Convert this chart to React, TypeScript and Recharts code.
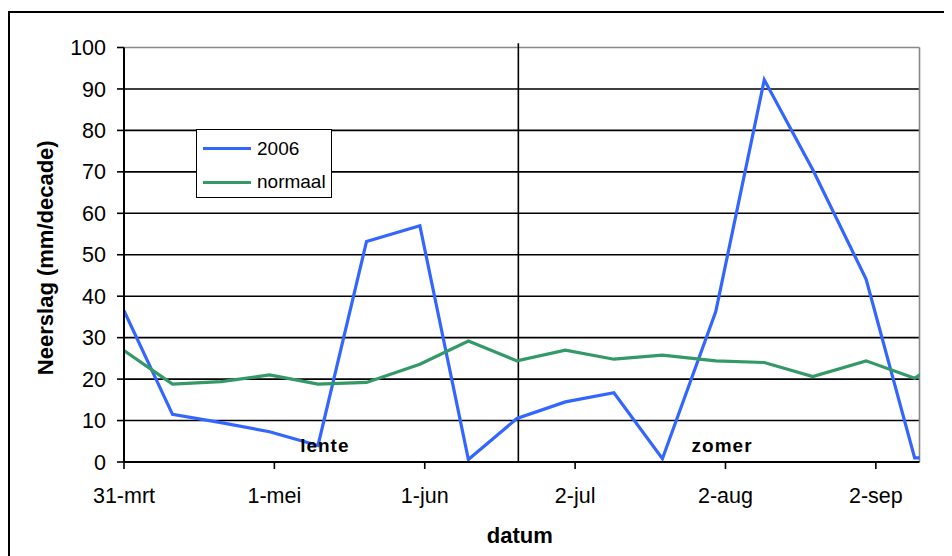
import React from "react";
import {
  LineChart,
  Line,
  XAxis,
  YAxis,
  ReferenceLine,
  ReferenceDot,
  Legend,
} from "recharts";

// Day offsets (from 31 March) of each decade end
const decadeDays = [0, 10, 20, 30, 40, 50, 61, 71, 81, 91, 101, 111, 122, 132, 142, 153, 163, 173];
// Precipitation per decade (mm), 2006
const rain2006 = [36.5, 11.5, 9.5, 7.3, 4.0, 53.2, 57.0, 0.6, 10.5, 14.5, 16.7, 0.8, 36.3, 92.2, 70.5, 44.1, 1.0, 1.0];
// Long-term normal precipitation per decade (mm)
const rainNormal = [26.9, 18.8, 19.4, 21.0, 18.8, 19.2, 23.6, 29.2, 24.4, 27.0, 24.8, 25.8, 24.4, 24.0, 20.6, 24.4, 20.2, 28.0];

// X axis: tick positions (days) and their date labels
const xTicks = [0, 31, 62, 93, 124, 155];
const xTickLabels = ["31-mrt", "1-mei", "1-jun", "2-jul", "2-aug", "2-sep"];
const xMax = 164;

// Y axis ticks and horizontal gridlines
const yTicks = [0, 10, 20, 30, 40, 50, 60, 70, 80, 90, 100];
const gridValues = [10, 20, 30, 40, 50, 60, 70, 80, 90];

// Season divider and season labels
const summerStartDay = 81.3;
const seasons = [
  { name: "lente", day: 41.4, value: 4.1 },
  { name: "zomer", day: 123.3, value: 4.1 },
];

const seriesNames = { y2006: "2006", normal: "normaal" };
const BLUE = "#3366FF";
const GREEN = "#339966";
const FONT = "'Liberation Sans', Arial, sans-serif";

const data = decadeDays.map((d, i) => ({
  day: d,
  y2006: rain2006[i],
  normal: rainNormal[i],
}));

const LegendBox = () => (
  <div
    style={{
      width: 136,
      height: 69,
      border: "1.5px solid #000",
      background: "#fff",
      fontFamily: FONT,
      fontSize: 19,
      color: "#000",
      boxSizing: "border-box",
      position: "relative",
    }}
  >
    {[
      { label: seriesNames.y2006, color: BLUE, top: 18.5 },
      { label: seriesNames.normal, color: GREEN, top: 52 },
    ].map((it) => (
      <div key={it.label} style={{ position: "absolute", left: 6, top: it.top - 12, height: 24, display: "flex", alignItems: "center" }}>
        <div style={{ width: 48, height: 3, background: it.color, marginRight: 6 }} />
        <span style={{ lineHeight: "24px" }}>{it.label}</span>
      </div>
    ))}
  </div>
);

const SeasonLabel = (name: string) => (props: any) => {
  const { cx, cy } = props;
  return (
    <text
      x={cx}
      y={cy}
      textAnchor="middle"
      dominantBaseline="central"
      fontFamily={FONT}
      fontWeight="bold"
      fontSize={19}
      letterSpacing={1}
      fill="#000"
    >
      {name}
    </text>
  );
};

export default function App() {
  return (
    <div style={{ position: "relative", width: 944, height: 548, overflow: "hidden", background: "#fff" }}>
      <div
        style={{
          position: "absolute",
          left: 0,
          top: 3,
          width: 1000,
          height: 700,
          border: "2px solid #000",
          boxSizing: "border-box",
        }}
      />
      <div style={{ position: "absolute", left: 0, top: 0 }}>
        <LineChart
          width={944}
          height={548}
          data={data}
          margin={{ top: 39.5, right: 32.5, bottom: 34, left: 56 }}
        >
          {gridValues.map((v) => (
            <ReferenceLine key={`g${v}`} y={v} stroke="#000" strokeWidth={1.6} />
          ))}
          <ReferenceLine y={100} stroke="#888" strokeWidth={1.6} />
          <ReferenceLine x={xMax} stroke="#888" strokeWidth={1.6} />
          <XAxis
            dataKey="day"
            type="number"
            domain={[0, xMax]}
            allowDataOverflow
            ticks={xTicks}
            tickFormatter={(v: number) => xTickLabels[xTicks.indexOf(v)]}
            interval={0}
            height={60}
            tickSize={7}
            tickMargin={19}
            stroke="#000"
            axisLine={{ stroke: "#000", strokeWidth: 2 }}
            tickLine={{ stroke: "#000", strokeWidth: 1.6 }}
            tick={{ fill: "#000", fontSize: 21.5, fontFamily: FONT }}
            label={{
              content: ({ viewBox }: any) => (
                <text
                  x={viewBox.x + viewBox.width / 2 - 2}
                  y={527}
                  textAnchor="middle"
                  dominantBaseline="central"
                  fontFamily={FONT}
                  fontWeight="bold"
                  fontSize={22}
                  fill="#000"
                >
                  datum
                </text>
              ),
            }}
          />
          <YAxis
            type="number"
            domain={[0, 100]}
            ticks={yTicks}
            interval={0}
            width={60}
            tickSize={7}
            tickMargin={11}
            axisLine={{ stroke: "#000", strokeWidth: 2 }}
            tickLine={{ stroke: "#000", strokeWidth: 1.6 }}
            tick={{ fill: "#000", fontSize: 21.5, fontFamily: FONT }}
            label={{
              content: ({ viewBox }: any) => {
                const cy = viewBox.y + viewBox.height / 2 + 3;
                return (
                  <text
                    x={37}
                    y={cy}
                    transform={`rotate(-90, 37, ${cy})`}
                    textAnchor="middle"
                    dominantBaseline="central"
                    fontFamily={FONT}
                    fontWeight="bold"
                    fontSize={22}
                    fill="#000"
                  >
                    Neerslag (mm/decade)
                  </text>
                );
              },
            }}
          />
          <ReferenceLine
            segment={[
              { x: summerStartDay, y: 0 },
              { x: summerStartDay, y: 101 },
            ]}
            ifOverflow="visible"
            stroke="#000"
            strokeWidth={1.6}
          />
          <Line
            type="linear"
            dataKey="y2006"
            name={seriesNames.y2006}
            stroke={BLUE}
            strokeWidth={3.2}
            dot={false}
            activeDot={false}
            isAnimationActive={false}
          />
          <Line
            type="linear"
            dataKey="normal"
            name={seriesNames.normal}
            stroke={GREEN}
            strokeWidth={3.2}
            dot={false}
            activeDot={false}
            isAnimationActive={false}
          />
          {seasons.map((s) => (
            <ReferenceDot
              key={s.name}
              x={s.day}
              y={s.value}
              r={0}
              ifOverflow="visible"
              shape={SeasonLabel(s.name)}
            />
          ))}
          <Legend
            layout="vertical"
            align="center"
            verticalAlign="middle"
            content={() => <LegendBox />}
            wrapperStyle={{ left: 188, top: 121, width: 136, height: 69 }}
          />
        </LineChart>
      </div>
    </div>
  );
}
